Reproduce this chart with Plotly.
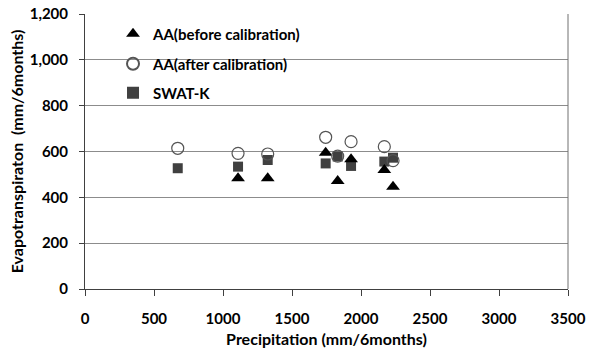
import plotly.graph_objects as go

precip = [672, 1109, 1324, 1744, 1831, 1928, 2169, 2232]
aa_before = [None, 483, 483, 595, 471, 566, 519, 446]
aa_after = [614, 592, 589, 662, 580, 643, 621, 560]
swat_k = [527, 534, 563, 548, 578, 537, 556, 573]

x_ticks = [0, 500, 1000, 1500, 2000, 2500, 3000, 3500]
y_ticks = [0, 200, 400, 600, 800, 1000, 1200]

FONT = "Lato, 'Liberation Sans', sans-serif"

fig = go.Figure()
fig.add_trace(go.Scatter(
    x=precip, y=swat_k, mode="markers", name="SWAT-K", legend="legend3", showlegend=True,
    marker=dict(symbol="square", size=10, color="#404040", line=dict(width=0))))
fig.add_trace(go.Scatter(
    x=precip, y=aa_before, mode="markers", name="AA(before calibration)", legend="legend", showlegend=True,
    marker=dict(symbol="triangle-up", size=12, color="#000000", line=dict(width=0))))
fig.add_trace(go.Scatter(
    x=precip, y=aa_after, mode="markers", name="AA(after calibration)", legend="legend2", showlegend=True,
    marker=dict(symbol="circle-open", size=12, color="#555555", line=dict(width=1.2))))

leg_common = dict(font=dict(family=FONT, size=15, color="#000000", weight="bold"),
                  bgcolor="rgba(0,0,0,0)", visible=True,
                  xanchor="left", yanchor="middle", itemsizing="constant")

fig.update_layout(
    width=596, height=353,
    showlegend=True,
    margin=dict(l=85, r=28, t=14, b=64, autoexpand=False),
    paper_bgcolor="white", plot_bgcolor="white",
    font=dict(family=FONT, size=15, color="#000000"),
    legend=dict(x=0.058, y=0.927, **leg_common),
    legend2=dict(x=0.058, y=0.818, **leg_common),
    legend3=dict(x=0.058, y=0.713, **leg_common),
    xaxis=dict(
        range=[0, 3500], tickvals=x_ticks, showgrid=False, zeroline=False, automargin=False,
        showline=True, linecolor="#404040", linewidth=1,
        ticks="outside", ticklen=6, tickcolor="#404040", ticklabelstandoff=10,
        tickfont=dict(family=FONT, size=15, color="#000000", weight="bold"),
        title=dict(text="Precipitation (mm/6months)", standoff=7,
                   font=dict(family=FONT, size=16, color="#000000", weight="bold"))),
    yaxis=dict(
        range=[0, 1200], tickvals=y_ticks, tickformat=",", showgrid=True, automargin=False,
        gridcolor="#8c8c8c", gridwidth=1, zeroline=False,
        showline=True, linecolor="#404040", linewidth=1,
        ticks="outside", ticklen=5, tickcolor="#404040", ticklabelstandoff=8,
        tickfont=dict(family=FONT, size=15, color="#000000", weight="bold"),
        title=dict(text="Evapotranspiraton  (mm/6months)", standoff=2,
                   font=dict(family=FONT, size=16, color="#000000", weight="bold"))),
    shapes=[dict(type="line", xref="paper", yref="paper", x0=1, x1=1, y0=0, y1=1,
                 line=dict(color="#707070", width=1))],
)

fig.write_html("out.html")
